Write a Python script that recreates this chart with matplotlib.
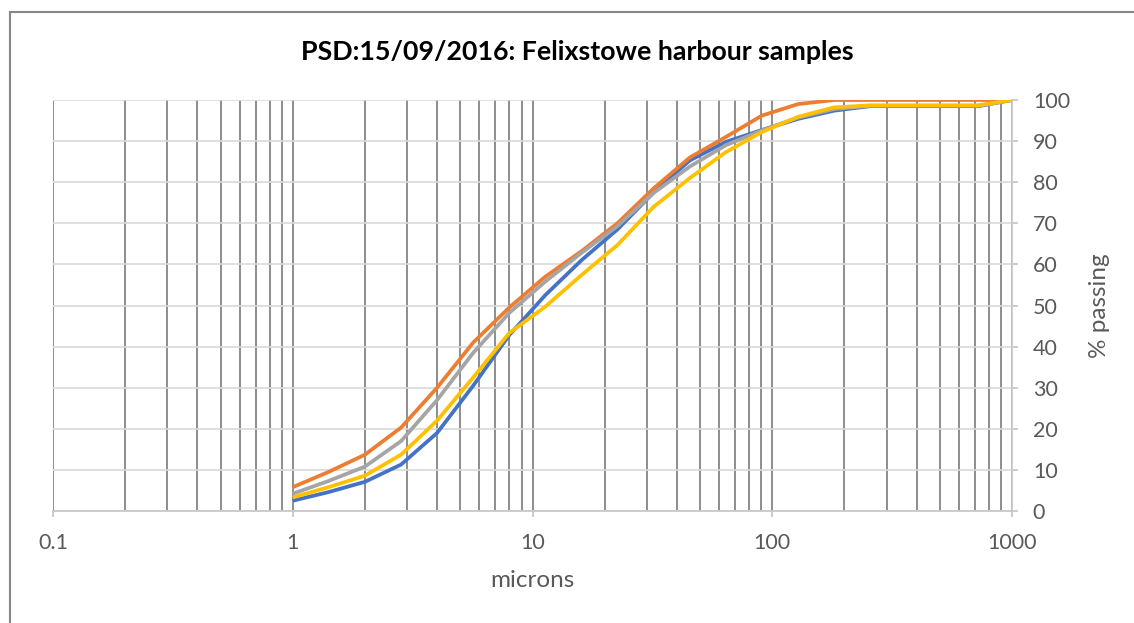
import matplotlib
matplotlib.use("Agg")
import matplotlib.pyplot as plt
from matplotlib.lines import Line2D
from matplotlib.ticker import FixedLocator, NullFormatter

# ---- data ----
sizes = [1, 1.41, 2, 2.83, 4, 5.66, 8, 11.3, 16, 22.6, 32, 45.3, 64, 90.5,
         128, 181, 256, 362, 512, 724, 1000]
series_names = ["Sample 1", "Sample 2", "Sample 3", "Sample 4"]
blue = [2.5, 4.6, 7.1, 11.3, 19, 30.5, 42.8, 52.5, 61, 68.5, 77.5, 85.3, 89.8,
        92.7, 95.4, 97.4, 98.5, 98.5, 98.5, 98.5, 100]
orange = [5.8, 9.5, 13.7, 20.3, 30, 41, 49.5, 57, 63.2, 70, 78.5, 86, 91,
          96.2, 99, 100, 100, 100, 100, 100, 100]
gray = [4.2, 7.3, 10.8, 17, 27, 38.5, 48.2, 55.8, 62.8, 69.3, 77.4, 83.8, 89,
        92.6, 95.7, 97.8, 98.6, 98.6, 98.6, 98.6, 100]
yellow = [3.3, 5.8, 8.6, 13.7, 22, 32.5, 43.3, 49.7, 57.4, 64.7, 74, 81, 87.3,
          92.2, 95.9, 98.2, 98.7, 98.7, 98.7, 98.7, 100]
x_ticks = [0.1, 1, 10, 100, 1000]
x_ticklabels = ["0.1", "1", "10", "100", "1000"]
y_ticks = list(range(0, 101, 10))
title = "PSD:15/09/2016: Felixstowe harbour samples"
xlabel = "microns"
ylabel = "% passing"

colors = ["#4472C4", "#ED7D31", "#A5A5A5", "#FFC000"]

plt.rcParams['font.family'] = ['Lato', 'DejaVu Sans']

W, H = 1134, 623
fig = plt.figure(figsize=(W / 100, H / 100), dpi=100)
ax = fig.add_axes([53 / W, 1 - 511 / H, (1012 - 53) / W, (511 - 100) / H])

ax.set_xscale("log")
ax.set_xlim(0.1, 1000)
ax.set_ylim(0, 100)

# gridlines
ax.xaxis.set_major_locator(FixedLocator(x_ticks))
minor = [m * 10.0 ** k for k in range(-1, 3) for m in range(2, 10)]
ax.xaxis.set_minor_locator(FixedLocator(minor))
ax.xaxis.set_minor_formatter(NullFormatter())
ax.set_xticklabels(x_ticklabels)
ax.set_yticks(y_ticks)

ax.grid(True, which="both", axis="x", color="#858585", linewidth=1.3, zorder=0)
ax.grid(True, which="major", axis="y", color="#D9D9D9", linewidth=1.2, zorder=0)
ax.set_axisbelow(True)

for vals, c, n in zip([blue, orange, gray, yellow], colors, series_names):
    ax.plot(sizes, vals, color=c, linewidth=2.7, label=n, zorder=3,
            solid_joinstyle="round", solid_capstyle="butt")

# spines
for s in ["left", "top"]:
    ax.spines[s].set_visible(False)
for s in ["bottom", "right"]:
    ax.spines[s].set_color("#C8C8C8")
    ax.spines[s].set_linewidth(1.3)

ax.yaxis.tick_right()
ax.yaxis.set_label_position("right")
ax.tick_params(axis="x", which="major", length=4, color="#C8C8C8", width=1.3,
               labelsize=15.5, labelcolor="#595959", pad=12)
ax.tick_params(axis="x", which="minor", length=0)
ax.tick_params(axis="y", which="major", length=4, color="#C8C8C8", width=1.3,
               labelsize=15.5, labelcolor="#595959", pad=11)

ax.set_xlabel(xlabel, fontsize=17.5, color="#595959", labelpad=12)
ax.set_ylabel(ylabel, fontsize=17.5, color="#595959", labelpad=14)

fig.text(577 / W, 1 - 52 / H, title, ha="center", va="center",
         fontsize=19.3, fontweight="bold", color="black")

# chart-area border (left and top visible)
fig.add_artist(Line2D([9.5 / W, 9.5 / W], [0, 1 - 11.5 / H],
                      transform=fig.transFigure, color="#868686", linewidth=1.5))
fig.add_artist(Line2D([9.5 / W, 1], [1 - 11.5 / H, 1 - 11.5 / H],
                      transform=fig.transFigure, color="#868686", linewidth=1.5))

fig.savefig("out.png", dpi=100, facecolor="white")
